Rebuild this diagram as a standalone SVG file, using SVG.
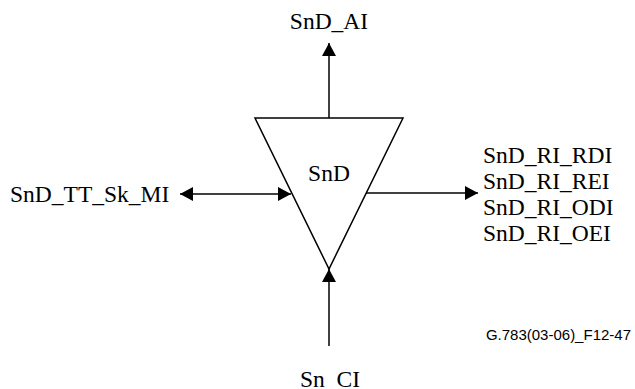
<svg xmlns="http://www.w3.org/2000/svg" width="635" height="389" viewBox="0 0 635 389">
<style>
.t{font-family:"Liberation Serif","Times New Roman",serif;font-size:23.5px;fill:#000}
.s{font-family:"Liberation Sans",Arial,sans-serif;font-size:15px;fill:#000}
.l{stroke:#000;stroke-width:1.5;fill:none}
</style>
<defs>
<marker id="ahb" viewBox="0 0 13 14" refX="13" refY="7" markerWidth="13" markerHeight="14" markerUnits="userSpaceOnUse" orient="auto-start-reverse">
<path d="M0,0 L13,7 L0,14 z" fill="#000"/>
</marker>
</defs>
<g id="node-snd">
<polygon points="255,118 403,118 329,269" fill="#fff" stroke="#000" stroke-width="1.5"/>
<text class="t" x="329" y="181" text-anchor="middle">SnD</text>
</g>
<g id="connectors">
<line class="l" x1="329" y1="118" x2="329" y2="43" marker-end="url(#ahb)"/>
<line class="l" x1="180" y1="194" x2="291" y2="194" marker-start="url(#ahb)" marker-end="url(#ahb)"/>
<line class="l" x1="366" y1="193" x2="478" y2="193" marker-end="url(#ahb)"/>
<line class="l" x1="329" y1="346" x2="329" y2="269" marker-end="url(#ahb)"/>
</g>
<g id="label-ai"><text class="t" x="329" y="29" text-anchor="middle">SnD_AI</text></g>
<g id="label-mi"><text class="t" x="10" y="202">SnD_TT_Sk_MI</text></g>
<g id="label-ri">
<text class="t" x="483" y="163">SnD_RI_RDI</text>
<text class="t" x="483" y="189">SnD_RI_REI</text>
<text class="t" x="483" y="215">SnD_RI_ODI</text>
<text class="t" x="483" y="241">SnD_RI_OEI</text>
</g>
<g id="label-ci"><text class="t" x="330" y="387" text-anchor="middle">Sn_CI</text></g>
<text class="s" x="631" y="340" text-anchor="end">G.783(03-06)_F12-47</text>
</svg>
